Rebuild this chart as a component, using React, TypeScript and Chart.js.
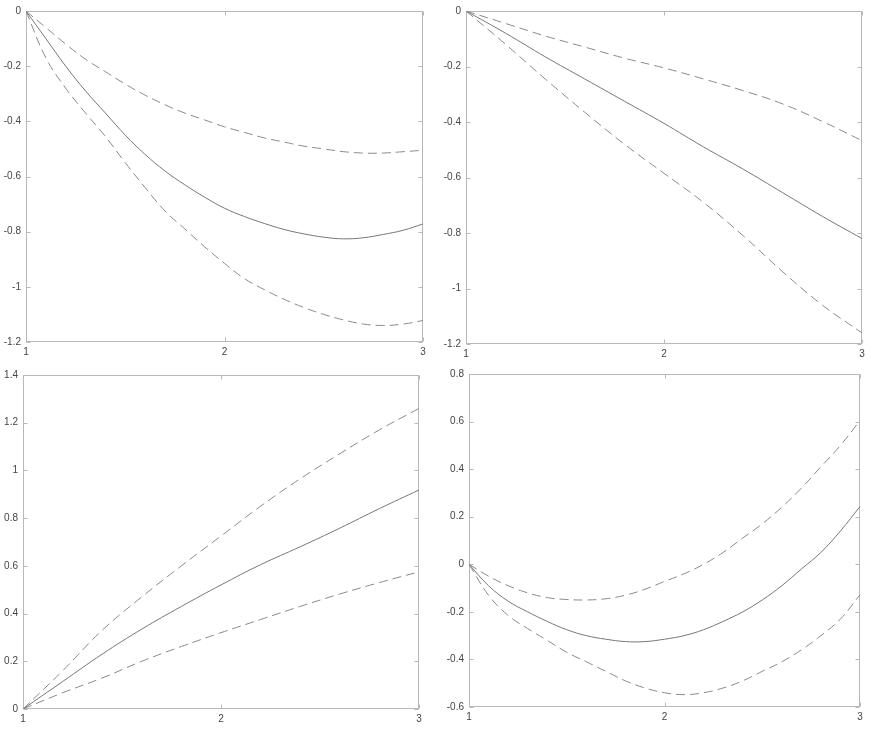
import React, { useEffect, useRef } from 'react';
import { Chart, registerables } from 'chart.js';

Chart.register(...registerables);

// x positions
const xsFine = [1, 1.1, 1.2, 1.3, 1.4, 1.5, 1.6, 1.7, 1.8, 1.9, 2, 2.1, 2.2, 2.3, 2.4, 2.5, 2.6, 2.7, 2.8, 2.9, 3];
const xsCoarse = [1, 1.2, 1.4, 1.6, 1.8, 2, 2.2, 2.4, 2.6, 2.8, 3];
const xTicks = [1, 2, 3];

// Panel 1 (top-left)
const p1Solid = [0, -0.1, -0.2, -0.29, -0.37, -0.45, -0.52, -0.58, -0.63, -0.675, -0.715, -0.745, -0.77, -0.792, -0.808, -0.82, -0.826, -0.822, -0.81, -0.795, -0.772];
const p1Upper = [0, -0.06, -0.12, -0.175, -0.22, -0.265, -0.305, -0.34, -0.37, -0.395, -0.42, -0.44, -0.46, -0.475, -0.49, -0.5, -0.51, -0.515, -0.515, -0.51, -0.505];
const p1Lower = [0, -0.17, -0.28, -0.37, -0.455, -0.55, -0.64, -0.725, -0.79, -0.855, -0.915, -0.97, -1.01, -1.045, -1.075, -1.1, -1.12, -1.135, -1.14, -1.135, -1.122];

// Panel 2 (top-right)
const p2Solid = [0, -0.08, -0.165, -0.245, -0.325, -0.405, -0.49, -0.57, -0.655, -0.74, -0.82];
const p2Upper = [0, -0.045, -0.09, -0.13, -0.17, -0.205, -0.245, -0.287, -0.335, -0.398, -0.467];
const p2Lower = [0, -0.12, -0.245, -0.365, -0.48, -0.585, -0.69, -0.81, -0.94, -1.06, -1.16];

// Panel 3 (bottom-left)
const p3Solid = [0, 0.115, 0.23, 0.335, 0.43, 0.52, 0.605, 0.68, 0.758, 0.84, 0.918];
const p3Upper = [0, 0.16, 0.33, 0.47, 0.6, 0.725, 0.85, 0.965, 1.07, 1.17, 1.26];
const p3Lower = [0, 0.068, 0.13, 0.2, 0.262, 0.32, 0.375, 0.43, 0.482, 0.53, 0.575];

// Panel 4 (bottom-right)
const p4Solid = [0, -0.09, -0.155, -0.2, -0.24, -0.275, -0.3, -0.315, -0.325, -0.325, -0.315, -0.3, -0.275, -0.24, -0.2, -0.15, -0.09, -0.02, 0.05, 0.14, 0.243];
const p4Upper = [0, -0.05, -0.09, -0.12, -0.14, -0.148, -0.15, -0.145, -0.13, -0.105, -0.072, -0.04, 0, 0.05, 0.11, 0.17, 0.24, 0.32, 0.41, 0.5, 0.604];
const p4Lower = [0, -0.13, -0.215, -0.27, -0.32, -0.37, -0.41, -0.45, -0.49, -0.52, -0.54, -0.548, -0.54, -0.52, -0.49, -0.45, -0.41, -0.36, -0.3, -0.23, -0.128];

const panels = [
  { left: 0, top: 0, w: 435, h: 360, yW: 26, xH: 18, padTop: 10, padRight: 12, yMin: -1.2, yMax: 0, xs: xsFine, solid: p1Solid, upper: p1Upper, lower: p1Lower },
  { left: 435, top: 0, w: 435, h: 360, yW: 31, xH: 16, padTop: 10, padRight: 8, yMin: -1.2, yMax: 0, xs: xsCoarse, solid: p2Solid, upper: p2Upper, lower: p2Lower },
  { left: 0, top: 360, w: 435, h: 370, yW: 23, xH: 21, padTop: 15, padRight: 16, yMin: 0, yMax: 1.4, xs: xsCoarse, solid: p3Solid, upper: p3Upper, lower: p3Lower },
  { left: 435, top: 360, w: 435, h: 370, yW: 34, xH: 23, padTop: 14, padRight: 10, yMin: -0.6, yMax: 0.8, xs: xsFine, solid: p4Solid, upper: p4Upper, lower: p4Lower },
];

const framePlugin = {
  id: 'frameTicks',
  beforeDatasetsDraw(chart: any) {
    const { ctx, chartArea: a, scales } = chart;
    ctx.save();
    ctx.strokeStyle = '#b8b8b8';
    ctx.lineWidth = 1;
    const L = Math.round(a.left) + 0.5;
    const R = Math.round(a.right) - 0.5;
    const T = Math.round(a.top) + 0.5;
    const B = Math.round(a.bottom) - 0.5;
    ctx.strokeRect(L, T, R - L, B - T);
    const tl = 4;
    ctx.beginPath();
    scales.x.ticks.forEach((t: any) => {
      const px = Math.round(scales.x.getPixelForValue(t.value)) + 0.5;
      ctx.moveTo(px, B);
      ctx.lineTo(px, B - tl);
      ctx.moveTo(px, T);
      ctx.lineTo(px, T + tl);
    });
    scales.y.ticks.forEach((t: any) => {
      const py = Math.round(scales.y.getPixelForValue(t.value)) + 0.5;
      ctx.moveTo(L, py);
      ctx.lineTo(L + tl, py);
      ctx.moveTo(R, py);
      ctx.lineTo(R - tl, py);
    });
    ctx.stroke();
    ctx.restore();
  },
};

function fmt(v: number) {
  const n = Math.round(v * 100) / 100;
  return Object.is(n, -0) ? '0' : String(n);
}

function Panel({ p }: { p: any }) {
  const ref = useRef<HTMLCanvasElement>(null);
  useEffect(() => {
    if (!ref.current) return;
    const mk = (ys: number[]) => p.xs.map((x: number, i: number) => ({ x, y: ys[i] }));
    const font = { family: 'Liberation Sans, Arial, sans-serif', size: 10 };
    const chart = new Chart(ref.current, {
      type: 'line',
      data: {
        datasets: [
          { data: mk(p.upper), borderColor: '#8a8a8a', borderWidth: 1, borderDash: [9, 5], pointRadius: 0, tension: 0.4, fill: false },
          { data: mk(p.solid), borderColor: '#777777', borderWidth: 1, pointRadius: 0, tension: 0.4, fill: false },
          { data: mk(p.lower), borderColor: '#8a8a8a', borderWidth: 1, borderDash: [9, 5], pointRadius: 0, tension: 0.4, fill: false },
        ],
      },
      options: {
        animation: false,
        responsive: false,
        layout: { padding: { top: p.padTop, right: p.padRight, left: 0, bottom: 0 } },
        plugins: { legend: { display: false }, tooltip: { enabled: false } },
        scales: {
          x: {
            type: 'linear',
            min: 1,
            max: 3,
            afterBuildTicks: (axis: any) => {
              axis.ticks = xTicks.map((v) => ({ value: v }));
            },
            afterFit: (axis: any) => {
              axis.height = p.xH;
            },
            grid: { display: false, drawTicks: false },
            border: { display: false },
            ticks: { font, color: '#444', padding: 4, maxRotation: 0, callback: (v: any) => fmt(Number(v)) },
          },
          y: {
            type: 'linear',
            min: p.yMin,
            max: p.yMax,
            afterFit: (axis: any) => {
              axis.width = p.yW;
            },
            grid: { display: false, drawTicks: false },
            border: { display: false },
            ticks: { font, color: '#444', padding: 5, stepSize: 0.2, callback: (v: any) => fmt(Number(v)) },
          },
        },
      },
      plugins: [framePlugin],
    } as any);
    return () => chart.destroy();
  }, [p]);
  return (
    <canvas
      ref={ref}
      width={p.w}
      height={p.h}
      style={{ position: 'absolute', left: p.left, top: p.top, width: p.w, height: p.h }}
    />
  );
}

export default function App() {
  return (
    <div style={{ position: 'absolute', left: 0, top: 0, width: 870, height: 730, background: '#fff' }}>
      {panels.map((p, i) => (
        <Panel key={i} p={p} />
      ))}
    </div>
  );
}
